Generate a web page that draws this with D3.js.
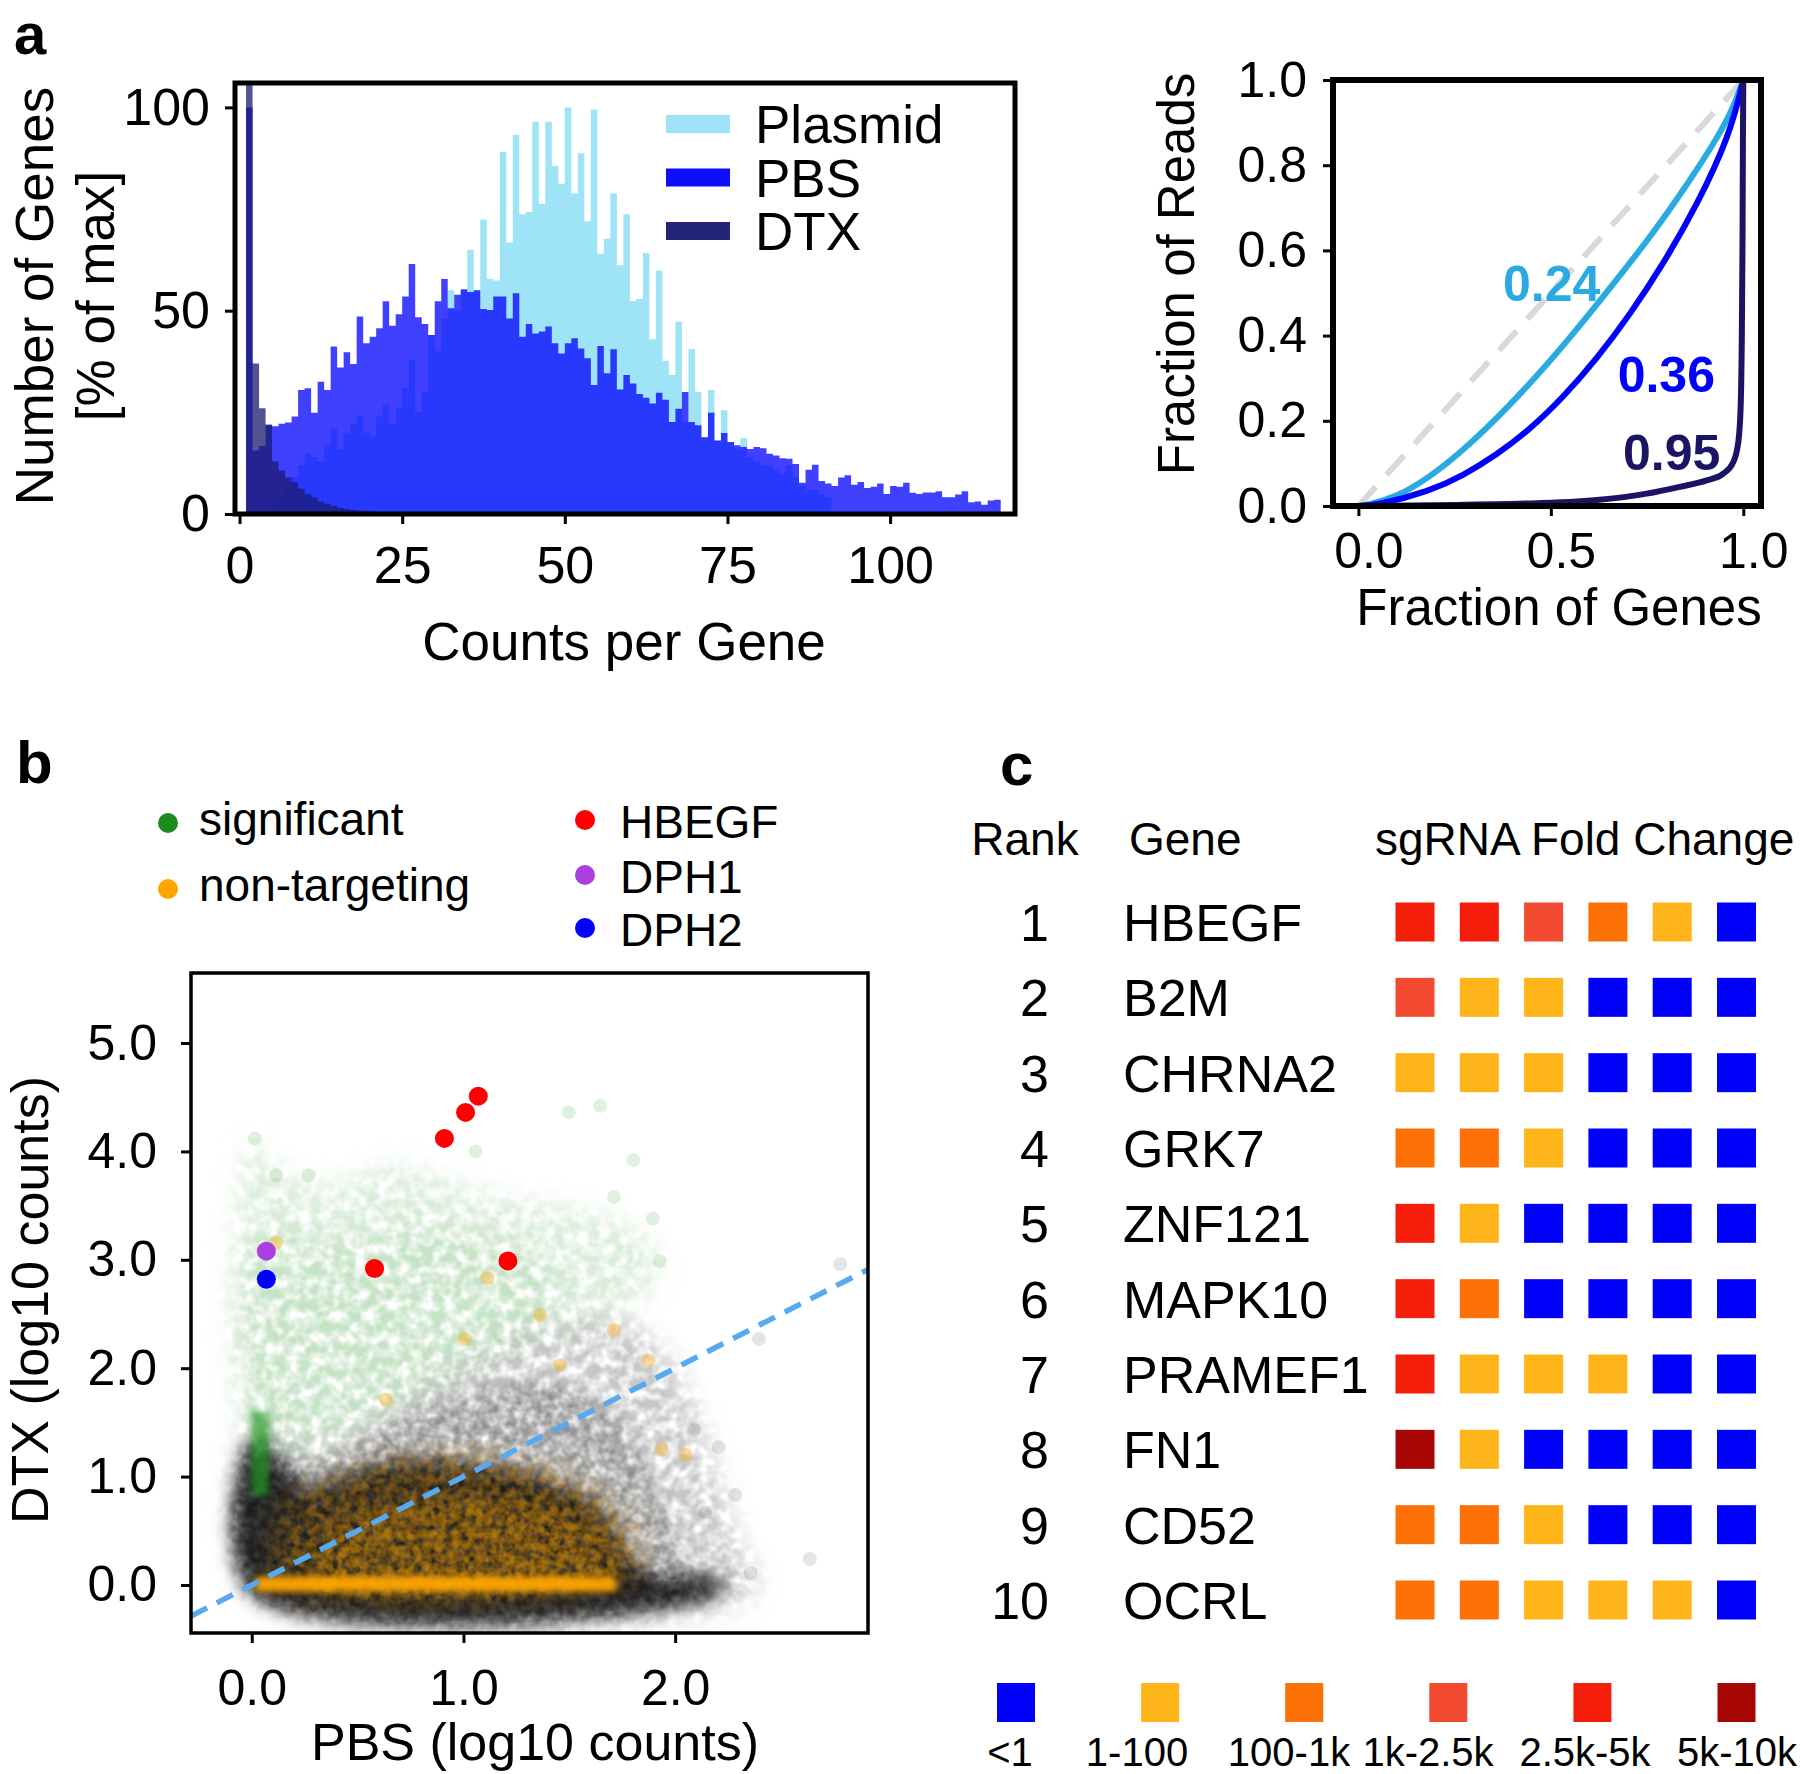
<!DOCTYPE html>
<html>
<head>
<meta charset="utf-8">
<script src="https://cdn.jsdelivr.net/npm/d3@7"></script>
<style>
  body { margin: 0; background: #fff; }
  svg text { font-family: "Liberation Sans", Arial, sans-serif; fill: #000; }
</style>
</head>
<body>
<svg id="fig" width="1800" height="1774"></svg>
<script>
// ---------- panel a, left: read counts histogram (% of max, 1-count bins from 1) ----------
var plasmidPct = [0,0,0,0.5,2,4,6,9,12,15, 14,13,17,21,16,20,22,24,20,19,
  24,27,22,26,31,38,25,30,44,40, 48,55,50,55,65,55,72.4,57.8,57.4,89,
  66.8,93.3,73.7,74.3,96.5,76.3,96.5,85.6,81.2,100, 78.8,88.7,72,99.5,64,67.7,78.8,61.2,73.7,52.4,
  52.9,64.2,43,59.9,37.7,34.2,47.3,22.6,40.6,30, 18.9,30.5,18.1,25.5,17.7,16,18.7,14,13,12,
  12,11,10,12,9,7,6,6,5,4];
var pbsPct = [100,15.6,16.7,21.8,21.6,22.2,22.5,24,30.5,30.9, 24.9,32.5,30.5,41.2,36,39.8,36.9,48.6,42,43.6,
  45.7,52.3,46.3,49.1,53.5,61.5,48.4,46.7,44,52.3, 57.8,50.6,53.9,55.3,54.6,55,50.4,50.2,53.5,53.5,
  48.1,54.3,43.6,46.7,44.4,44.9,46.1,42,39.5,42, 43.2,40.7,38.3,31.7,41.3,34.6,40.5,30.6,34.2,32.1,
  29.5,28.6,27.2,29.8,28.1,22.6,25.9,30,22.6,21.8, 18.9,24.9,18.1,19.9,17.7,16.9,16.5,16,16.5,16.2,
  14.8,14.4,13.7,13.6,12.3,7.7,10.9,12.1,8.1,7.5, 6.9,9.0,9.5,7.2,7.9,6.4,6.7,7.5,4.9,6.9,
  6.7,7.7,5.2,4.9,5.3,5.3,5.6,4.1,4.1,4.8, 5.6,2.9,3.1,2.3,3.3,3.5];
var dtxPct = [110,37,26,22,13,10.7,9,7.8,6.2,4.9, 4.1,3.1,2.5,2,1.5,1.2,1.0,0.8,0.7,0.6,
  0.5,0.4,0.35,0.3,0.25,0.2,0.2,0.15,0.1,0.1];
var histNames = ["Plasmid", "PBS", "DTX"];
var histColors = ["#9fe3f7", "#0000ff", "#191970"];
var histAlpha = [1, 0.75, 0.75];
var histTicksX = [0, 25, 50, 75, 100];
var histTicksY = [0, 50, 100];

// ---------- panel a, right: Lorenz curves ----------
var plasmidLorenz = [[0,0],[0.022,0.002],[0.10,0.021],[0.186,0.068],[0.273,0.131],[0.377,0.221],
  [0.481,0.322],[0.576,0.424],[0.645,0.502],[0.749,0.62],[0.835,0.729],[0.922,0.848],[0.97,0.925],[1,1]];
var pbsLorenz = [[0,0],[0.048,0.002],[0.186,0.035],[0.273,0.072],[0.359,0.12],[0.446,0.18],[0.532,0.255],
  [0.619,0.345],[0.706,0.45],[0.792,0.568],[0.879,0.705],[0.965,0.87],[1,1]];
var dtxLorenz = [[0,0],[0.446,0.006],[0.619,0.014],[0.749,0.029],[0.835,0.045],[0.905,0.06],[0.948,0.076],
  [0.974,0.103],[0.987,0.15],[0.993,0.229],[0.996,0.385],[0.998,0.62],[0.999,0.855],[1,1]];
var giniValues = ["0.24", "0.36", "0.95"];
var lorenzColors = ["#29abe2", "#0000ff", "#1b1464"];
var lorenzTicksX = [0, 0.5, 1.0];
var lorenzTicksY = [0, 0.2, 0.4, 0.6, 0.8, 1.0];

// ---------- panel b: PBS vs DTX (log10 counts) ----------
// density regions of the dense guide cloud
var grayHalo = [[0.0,-0.07],[0.0,1.45],[0.3,1.3],[0.6,1.6],[0.9,1.95],[1.2,2.25],[1.5,2.45],[1.75,2.45],
  [1.95,2.15],[2.1,1.6],[2.2,1.0],[2.3,0.4],[2.38,-0.07]];
var grayMid = [[0.0,-0.07],[0.0,1.35],[0.3,1.15],[0.6,1.45],[0.9,1.7],[1.2,1.85],[1.45,1.85],[1.7,1.6],
  [1.85,1.2],[1.95,0.7],[2.05,0.25],[2.15,-0.07]];
var blackCore = [[0.0,-0.07],[0.0,1.3],[0.12,1.15],[0.25,0.9],[0.5,1.05],[0.75,1.15],[1.0,1.12],[1.25,1.05],
  [1.45,0.92],[1.62,0.75],[1.72,0.5],[1.8,0.22],[1.9,0.08],[2.22,0.04],[2.22,-0.07]];
var orangeWide = [[0.12,0.02],[0.15,0.7],[0.45,1.05],[0.8,1.2],[1.15,1.2],[1.45,1.05],[1.7,0.8],
  [1.82,0.45],[1.85,0.1],[1.75,0.02]];
var orangeLow = [[0.3,0.05],[0.35,0.45],[0.6,0.7],[0.95,0.8],[1.3,0.75],[1.58,0.6],[1.7,0.35],[1.7,0.05]];
var orangeBand = [[0.02,-0.06],[0.02,0.08],[1.72,0.08],[1.72,-0.06]];
var greenHalo = [[0.0,1.3],[0.0,4.1],[0.15,3.8],[0.4,3.7],[0.65,3.9],[0.9,3.75],[1.15,3.6],[1.45,3.5],
  [1.75,3.35],[1.92,3.05],[1.9,2.75],[1.7,2.5],[1.45,2.35],[1.2,2.15],[0.9,1.85],[0.6,1.55],[0.35,1.3]];
var greenDense = [[0.03,1.4],[0.03,3.2],[0.4,3.15],[0.8,3.3],[1.2,3.1],[1.45,2.8],[1.35,2.4],[1.1,2.1],
  [0.8,1.8],[0.5,1.5],[0.25,1.3]];
var greenColumn = [[0.0,0.82],[0.0,1.62],[0.08,1.58],[0.08,0.82]];
var greenOut = [[0.014,4.12],[1.497,4.36],[1.646,4.42],[1.803,3.92],[1.057,4.0],[0.269,3.78],[0.116,3.78],
  [1.711,3.58],[1.895,3.38],[1.926,2.99]];
var grayOut = [[2.78,2.96],[2.636,0.24],[2.396,2.27],[2.356,0.11],[2.206,1.27],[2.284,0.83],[2.09,1.43],[2.141,0.67]];
var orangeOut = [[1.936,1.25],[2.049,1.2],[1.363,2.49],[1.006,2.27],[0.116,3.16],[0.634,1.71],[1.875,2.07],
  [1.711,2.35],[1.456,2.03],[1.114,2.83],[0.354,0.0]];
var hbegfPBS = [0.58, 0.91, 1.01, 1.07, 1.21];
var hbegfDTX = [2.92, 4.12, 4.36, 4.51, 2.99];
var dph1 = [0.069, 3.08];
var dph2 = [0.069, 2.82];
var scatterTicksX = [0, 1, 2];
var scatterTicksY = [0, 1, 2, 3, 4, 5];
var scatterLegendL = ["significant", "non-targeting"];
var scatterLegendR = ["HBEGF", "DPH1", "DPH2"];

// ---------- panel c: top ranked genes ----------
var ranks = [1,2,3,4,5,6,7,8,9,10];
var genes = ["HBEGF","B2M","CHRNA2","GRK7","ZNF121","MAPK10","PRAMEF1","FN1","CD52","OCRL"];
var foldClass = [[4,4,3,2,1,0],[3,1,1,0,0,0],[1,1,1,0,0,0],[2,2,1,0,0,0],[4,1,0,0,0,0],
  [4,2,0,0,0,0],[4,1,1,1,0,0],[5,1,0,0,0,0],[2,2,1,0,0,0],[2,2,1,1,1,0]];
var foldLabels = ["<1","1-100","100-1k","1k-2.5k","2.5k-5k","5k-10k"];
var foldColors = ["#0000ff","#fdb51a","#fd7005","#f24a30","#f41e0a","#a80505"];

var FONT = '"Liberation Sans", Arial, sans-serif';
var svg = d3.select("#fig");
var defs = svg.append("defs");

function styleAxis(g, fs) {
  g.attr("font-family", FONT).attr("font-size", fs);
  g.select(".domain").remove();
  g.selectAll(".tick line").attr("stroke", "#000").attr("stroke-width", 3);
  g.selectAll(".tick text").attr("fill", "#000");
}

// ===== panel labels =====
svg.append("text").attr("x", 14).attr("y", 54).attr("font-size", 58).attr("font-weight", "bold").text("a");
svg.append("text").attr("x", 16).attr("y", 783).attr("font-size", 60).attr("font-weight", "bold").text("b");
svg.append("text").attr("x", 1000).attr("y", 785).attr("font-size", 60).attr("font-weight", "bold").text("c");

// ===== histogram =====
var xH = d3.scaleLinear().domain([-0.7, 119.2]).range([235, 1015]);
var yH = d3.scaleLinear().domain([0, 106]).range([514, 83]);
defs.append("clipPath").attr("id", "clipH").append("rect")
  .attr("x", 235).attr("y", 83).attr("width", 780).attr("height", 431);

var histArea = d3.area()
  .x(function(d) { return xH(d.c); })
  .y0(yH(0))
  .y1(function(d) { return yH(d.v); })
  .curve(d3.curveStepAfter);

[plasmidPct, pbsPct, dtxPct].forEach(function(vals, s) {
  var pts = vals.map(function(v, i) { return {c: i + 1, v: v}; });
  pts.push({c: vals.length + 1, v: vals[vals.length - 1]});
  svg.append("path")
    .attr("clip-path", "url(#clipH)")
    .attr("d", histArea(pts))
    .attr("fill", histColors[s])
    .attr("fill-opacity", histAlpha[s]);
});

svg.append("g").attr("transform", "translate(235,0)")
  .call(d3.axisLeft(yH).tickValues(histTicksY).tickSize(10).tickPadding(15))
  .call(styleAxis, 52);
svg.append("g").attr("transform", "translate(0,514)")
  .call(d3.axisBottom(xH).tickValues(histTicksX).tickSize(10).tickPadding(22))
  .call(styleAxis, 52);
svg.append("rect").attr("x", 235).attr("y", 83).attr("width", 780).attr("height", 431)
  .attr("fill", "none").attr("stroke", "#000").attr("stroke-width", 5);

var histLeg = svg.append("g");
histNames.forEach(function(n, i) {
  var cy = 124 + i * 53.5;
  histLeg.append("rect").attr("x", 666).attr("y", cy - 9).attr("width", 64).attr("height", 18)
    .attr("fill", histColors[i]).attr("fill-opacity", i === 0 ? 1 : 0.95);
  histLeg.append("text").attr("x", 755).attr("y", cy + 19).attr("font-size", 53).text(n);
});

svg.append("text").attr("x", 624).attr("y", 660).attr("text-anchor", "middle")
  .attr("font-size", 53).text("Counts per Gene");
svg.append("text").attr("transform", "translate(53,296) rotate(-90)").attr("text-anchor", "middle")
  .attr("font-size", 53).text("Number of Genes");
svg.append("text").attr("transform", "translate(114,296) rotate(-90)").attr("text-anchor", "middle")
  .attr("font-size", 53).text("[% of max]");

// ===== Lorenz curves =====
var xL = d3.scaleLinear().domain([-0.066, 1.046]).range([1333, 1761]);
var yL = d3.scaleLinear().domain([0, 1]).range([506, 80]);
function lorenzLine(curve) {
  return d3.line()
    .x(function(d) { return xL(d[0]); })
    .y(function(d) { return yL(d[1]); })
    .curve(curve);
}

svg.append("path").attr("d", lorenzLine(d3.curveLinear)([[0, 0], [1, 1]]))
  .attr("fill", "none").attr("stroke", "#d9d9d9").attr("stroke-width", 6).attr("stroke-dasharray", "26,16");
[plasmidLorenz, pbsLorenz, dtxLorenz].forEach(function(pts, s) {
  var curve = s < 2 ? d3.curveBasis : d3.curveMonotoneX;
  svg.append("path").attr("d", lorenzLine(curve)(pts))
    .attr("fill", "none").attr("stroke", lorenzColors[s]).attr("stroke-width", 6)
    .attr("stroke-linejoin", "round");
});
var giniAt = [[0.502, 0.523], [0.80, 0.31], [0.814, 0.127]];
giniValues.forEach(function(g, i) {
  svg.append("text").attr("x", xL(giniAt[i][0])).attr("y", yL(giniAt[i][1]) + 18)
    .attr("text-anchor", "middle").attr("font-size", 50).attr("font-weight", "bold")
    .style("fill", lorenzColors[i]).text(g);
});

svg.append("g").attr("transform", "translate(1333,0)")
  .call(d3.axisLeft(yL).tickValues(lorenzTicksY).tickFormat(d3.format(".1f")).tickSize(10).tickPadding(16))
  .call(styleAxis, 50);
var lx = svg.append("g").attr("transform", "translate(0,506)")
  .call(d3.axisBottom(xL).tickValues(lorenzTicksX).tickFormat(d3.format(".1f")).tickSize(10).tickPadding(16))
  .call(styleAxis, 50);
lx.selectAll(".tick text").attr("x", 10);
svg.append("rect").attr("x", 1333).attr("y", 80).attr("width", 428).attr("height", 426)
  .attr("fill", "none").attr("stroke", "#000").attr("stroke-width", 6);
svg.append("text").attr("x", 1559).attr("y", 625).attr("text-anchor", "middle")
  .attr("font-size", 51).text("Fraction of Genes");
svg.append("text").attr("transform", "translate(1194,274) rotate(-90)").attr("text-anchor", "middle")
  .attr("font-size", 51).text("Fraction of Reads");

// ===== scatter =====
var xS = d3.scaleLinear().domain([-0.287, 2.911]).range([191, 868]);
var yS = d3.scaleLinear().domain([-0.443, 5.646]).range([1633, 973]);
defs.append("clipPath").attr("id", "clipS").append("rect")
  .attr("x", 191).attr("y", 973).attr("width", 677).attr("height", 660);

// blurred region modulated by a noise mask, to give the mottled look of overlapping faint dots
function noiseFilter(id, blur, freq, seed, a, b) {
  var f = defs.append("filter").attr("id", id)
    .attr("x", "-15%").attr("y", "-15%").attr("width", "130%").attr("height", "130%")
    .attr("color-interpolation-filters", "sRGB");
  f.append("feGaussianBlur").attr("in", "SourceGraphic").attr("stdDeviation", blur).attr("result", "b");
  f.append("feTurbulence").attr("type", "fractalNoise").attr("baseFrequency", freq)
    .attr("numOctaves", 2).attr("seed", seed).attr("result", "n");
  f.append("feColorMatrix").attr("in", "n").attr("type", "matrix")
    .attr("values", "0 0 0 0 0  0 0 0 0 0  0 0 0 0 0  " + a + " 0 0 0 " + b).attr("result", "m");
  f.append("feComposite").attr("in", "b").attr("in2", "m").attr("operator", "in");
}
noiseFilter("haze", 13, 0.09, 5, 2.4, -0.6);
noiseFilter("speckle", 8, 0.11, 7, 1.8, -0.35);
noiseFilter("orangeSpk", 12, 0.12, 19, 2.6, -0.75);
noiseFilter("orangeSpk2", 9, 0.13, 31, 2.6, -0.75);
function blurFilter(id, sd) {
  defs.append("filter").attr("id", id)
    .attr("x", "-30%").attr("y", "-60%").attr("width", "160%").attr("height", "220%")
    .append("feGaussianBlur").attr("stdDeviation", sd);
}
blurFilter("soft", 9);
blurFilter("soft2", 3);

var region = d3.line()
  .x(function(d) { return xS(d[0]); })
  .y(function(d) { return yS(d[1]); })
  .curve(d3.curveCatmullRomClosed);
var box = d3.line()
  .x(function(d) { return xS(d[0]); })
  .y(function(d) { return yS(d[1]); })
  .curve(d3.curveLinearClosed);

var cloud = svg.append("g").attr("clip-path", "url(#clipS)");
var layers = [
  [grayHalo, "#000", 0.22, "haze", region],
  [grayMid, "#000", 0.32, "speckle", region],
  [greenHalo, "#3aa03a", 0.19, "haze", region],
  [greenDense, "#3aa03a", 0.13, "haze", region],
  [blackCore, "#0a0a0a", 0.8, "soft", region],
  [blackCore, "#000", 0.4, "speckle", region],
  [orangeWide, "#e89400", 0.42, "orangeSpk", region],
  [orangeLow, "#f09c00", 0.45, "orangeSpk2", region],
  [orangeBand, "#ffa500", 0.95, "soft2", box],
  [greenColumn, "#229a22", 0.7, "soft2", box]
];
layers.forEach(function(l) {
  cloud.append("path").attr("d", l[4](l[0]))
    .attr("fill", l[1]).attr("fill-opacity", l[2]).attr("filter", "url(#" + l[3] + ")");
});
[[greenOut, "#2e9e2e", 0.15], [grayOut, "#000", 0.1], [orangeOut, "#ffa500", 0.35]].forEach(function(set) {
  cloud.selectAll(null).data(set[0]).enter().append("circle")
    .attr("cx", function(d) { return xS(d[0]); })
    .attr("cy", function(d) { return yS(d[1]); })
    .attr("r", 7).attr("fill", set[1]).attr("fill-opacity", set[2]);
});

cloud.append("path").attr("d", d3.line().x(function(d) { return xS(d); }).y(function(d) { return yS(d); })([-0.287, 2.911]))
  .attr("stroke", "#57a9f0").attr("stroke-width", 5.5).attr("stroke-dasharray", "18,11").attr("fill", "none");

cloud.selectAll(".hb").data(hbegfPBS).enter().append("circle")
  .attr("cx", function(d) { return xS(d); })
  .attr("cy", function(d, i) { return yS(hbegfDTX[i]); })
  .attr("r", 9.5).attr("fill", "#ff0000");
cloud.append("circle").attr("cx", xS(dph1[0])).attr("cy", yS(dph1[1])).attr("r", 9.5).attr("fill", "#aa3fe0");
cloud.append("circle").attr("cx", xS(dph2[0])).attr("cy", yS(dph2[1])).attr("r", 9.5).attr("fill", "#0000ff");

svg.append("g").attr("transform", "translate(191,0)")
  .call(d3.axisLeft(yS).tickValues(scatterTicksY).tickFormat(d3.format(".1f")).tickSize(10).tickPadding(24))
  .call(styleAxis, 50);
svg.append("g").attr("transform", "translate(0,1633)")
  .call(d3.axisBottom(xS).tickValues(scatterTicksX).tickFormat(d3.format(".1f")).tickSize(10).tickPadding(26))
  .call(styleAxis, 50);
svg.append("rect").attr("x", 191).attr("y", 973).attr("width", 677).attr("height", 660)
  .attr("fill", "none").attr("stroke", "#000").attr("stroke-width", 3.5);
svg.append("text").attr("x", 535).attr("y", 1760).attr("text-anchor", "middle")
  .attr("font-size", 52).text("PBS (log10 counts)");
svg.append("text").attr("transform", "translate(48,1300) rotate(-90)").attr("text-anchor", "middle")
  .attr("font-size", 52).text("DTX (log10 counts)");

// scatter legend
var legL = [[823, "#1e8b1e"], [889, "#ffa500"]];
scatterLegendL.forEach(function(t, i) {
  svg.append("circle").attr("cx", 168).attr("cy", legL[i][0]).attr("r", 10).attr("fill", legL[i][1]);
  svg.append("text").attr("x", 199).attr("y", legL[i][0] + 12).attr("font-size", 46).text(t);
});
var legR = [[820, "#ff0000"], [875, "#aa3fe0"], [928, "#0000ff"]];
scatterLegendR.forEach(function(t, i) {
  svg.append("circle").attr("cx", 585).attr("cy", legR[i][0]).attr("r", 10).attr("fill", legR[i][1]);
  svg.append("text").attr("x", 620).attr("y", legR[i][0] + 18).attr("font-size", 46).text(t);
});

// ===== panel c =====
var colX = d3.scalePoint().domain(d3.range(6)).range([1415, 1736.5]);
var rowY = d3.scalePoint().domain(ranks).range([922, 1600]);
var sq = 39;
svg.append("text").attr("x", 1025).attr("y", 855).attr("text-anchor", "middle").attr("font-size", 46).text("Rank");
svg.append("text").attr("x", 1129).attr("y", 855).attr("font-size", 46).text("Gene");
svg.append("text").attr("x", 1375).attr("y", 855).attr("font-size", 46).text("sgRNA Fold Change");

var rows = svg.append("g").selectAll("g").data(ranks).enter().append("g")
  .attr("transform", function(d) { return "translate(0," + rowY(d) + ")"; });
rows.append("text").attr("x", 1049).attr("y", 19).attr("text-anchor", "end").attr("font-size", 52)
  .text(function(d) { return d; });
rows.append("text").attr("x", 1123).attr("y", 19).attr("font-size", 52)
  .text(function(d, i) { return genes[i]; });
rows.selectAll("rect").data(function(d, i) { return foldClass[i]; }).enter().append("rect")
  .attr("x", function(d, j) { return colX(j) - sq / 2; })
  .attr("y", -sq / 2).attr("width", sq).attr("height", sq)
  .attr("fill", function(d) { return foldColors[d]; });

// colour key: squares evenly spaced, captions sit slightly left of them as in the figure
var legX = d3.scalePoint().domain(foldLabels).range([1016, 1736.5]);
var captionX = [1010, 1137, 1289, 1428, 1585, 1737];
var legC = svg.append("g");
foldLabels.forEach(function(lab, i) {
  legC.append("rect").attr("x", legX(lab) - 19).attr("y", 1683).attr("width", 38).attr("height", 39)
    .attr("fill", foldColors[i]);
  legC.append("text").attr("x", captionX[i]).attr("y", 1766).attr("text-anchor", "middle")
    .attr("font-size", 40).text(lab);
});
</script>
</body>
</html>
